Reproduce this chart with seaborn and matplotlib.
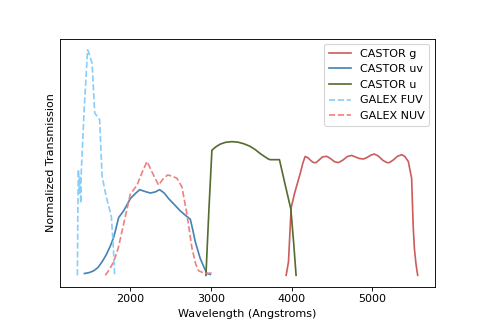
import matplotlib
matplotlib.use("Agg")
import matplotlib.pyplot as plt
import seaborn as sns
import numpy as np

# CASTOR g
g_wl = [3931, 3960, 3993, 4040, 4104, 4140, 4166, 4200, 4240, 4270, 4302, 4340, 4380, 4434,
        4480, 4530, 4578, 4630, 4690, 4743, 4790, 4840, 4888, 4930, 4980, 5023, 5070, 5130,
        5180, 5210, 5260, 5310, 5363, 5400, 5445, 5486, 5495, 5505, 5520, 5540, 5561]
g_tr = [0.0, 0.06, 0.30, 0.37, 0.45, 0.50, 0.527, 0.522, 0.508, 0.500, 0.500, 0.512, 0.525, 0.528,
        0.518, 0.504, 0.500, 0.510, 0.527, 0.532, 0.525, 0.518, 0.516, 0.522, 0.533, 0.538, 0.530, 0.510,
        0.500, 0.500, 0.512, 0.528, 0.535, 0.528, 0.505, 0.43, 0.33, 0.22, 0.12, 0.05, 0.0]

# CASTOR uv
uv_wl = [1431, 1490, 1546, 1600, 1650, 1700, 1752, 1790, 1814, 1855, 1917, 2000, 2060, 2116,
         2180, 2248, 2310, 2363, 2420, 2475, 2550, 2619, 2690, 2743, 2775, 2804, 2866, 2920, 2949, 2990]
uv_tr = [0.008, 0.012, 0.02, 0.035, 0.06, 0.09, 0.13, 0.165, 0.196, 0.256, 0.286, 0.34, 0.362, 0.38,
         0.372, 0.365, 0.370, 0.38, 0.365, 0.34, 0.312, 0.286, 0.264, 0.249, 0.20, 0.15, 0.075, 0.03, 0.008, 0.004]

# CASTOR u
u_wl = [2937, 2975, 3011, 3060, 3114, 3180, 3258, 3330, 3403, 3480, 3547, 3610, 3671, 3710, 3733, 3800, 3848, 3920, 3989, 4025, 4054]
u_tr = [0.0, 0.30, 0.555, 0.570, 0.582, 0.590, 0.593, 0.591, 0.584, 0.573, 0.558, 0.540, 0.525, 0.516, 0.513, 0.513, 0.513, 0.40, 0.294, 0.14, 0.0]

# GALEX FUV
fuv_wl = [1344, 1350, 1356, 1362, 1368, 1374, 1380, 1386, 1392, 1430, 1470, 1484, 1500, 1526, 1559, 1620, 1650, 1700, 1744, 1765, 1790, 1806]
fuv_tr = [0.0, 0.30, 0.47, 0.42, 0.36, 0.44, 0.38, 0.32, 0.46, 0.75, 1.0, 0.99, 0.97, 0.94, 0.72, 0.69, 0.44, 0.35, 0.29, 0.26, 0.12, 0.0]

# GALEX NUV
nuv_wl = [1690, 1740, 1793, 1850, 1897, 1950, 2000, 2083, 2150, 2207, 2280, 2350, 2400, 2462, 2520, 2578,
          2640, 2702, 2764, 2810, 2846, 2928, 3011]
nuv_tr = [0.0, 0.025, 0.06, 0.12, 0.196, 0.28, 0.36, 0.40, 0.46, 0.505, 0.45, 0.40, 0.425, 0.445, 0.44, 0.43,
          0.392, 0.27, 0.12, 0.05, 0.02, 0.008, 0.01]

fig, ax = plt.subplots(figsize=(6, 4), dpi=80.5)

sns.lineplot(x=g_wl, y=g_tr, color="indianred", lw=1.5, label="CASTOR g", ax=ax, sort=False)
sns.lineplot(x=uv_wl, y=uv_tr, color="steelblue", lw=1.5, label="CASTOR uv", ax=ax, sort=False)
sns.lineplot(x=u_wl, y=u_tr, color="darkolivegreen", lw=1.5, label="CASTOR u", ax=ax, sort=False)
sns.lineplot(x=fuv_wl, y=fuv_tr, color="lightskyblue", lw=1.5, linestyle="--", label="GALEX FUV", ax=ax, sort=False)
sns.lineplot(x=nuv_wl, y=nuv_tr, color="lightcoral", lw=1.5, linestyle="--", label="GALEX NUV", ax=ax, sort=False)

ax.set_xticks([2000, 3000, 4000, 5000])
ax.set_yticks([])
ax.set_xlabel("Wavelength (Angstroms)")
ax.set_ylabel("Normalized Transmission")
ax.legend(loc="upper right")

fig.savefig("out.png", dpi=80.5)
